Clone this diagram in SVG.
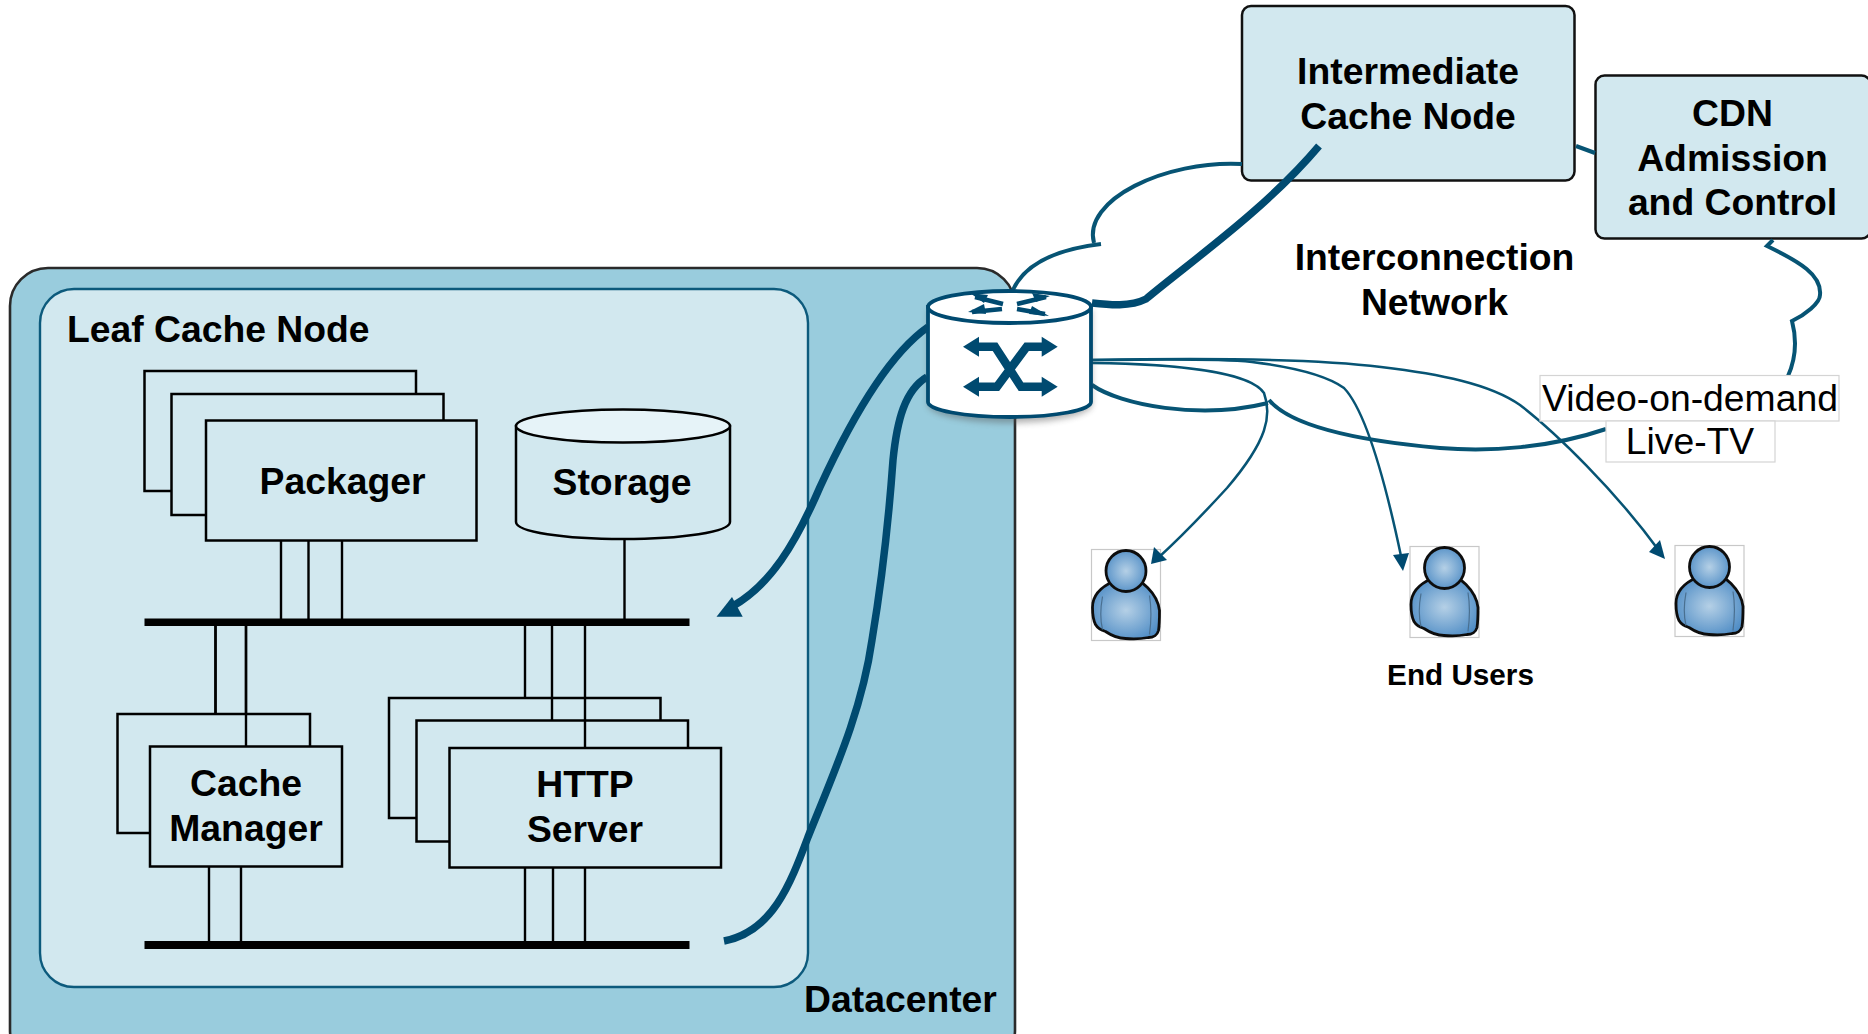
<svg xmlns="http://www.w3.org/2000/svg" xmlns:xlink="http://www.w3.org/1999/xlink" width="1868" height="1034" viewBox="0 0 1868 1034">
<style>
text{font-family:"Liberation Sans",Arial,sans-serif;font-size:37.3px;font-weight:bold;fill:#000;text-anchor:middle}
.plain{font-weight:normal}
.box{fill:#d2e8ef;stroke:#000;stroke-width:2.5}
.lnk{fill:none;stroke:#000;stroke-width:2.4}
.bus{fill:#000}
.thick{fill:none;stroke:#004a70;stroke-width:7.5}
.mid{fill:none;stroke:#075474;stroke-width:4}
.thin{fill:none;stroke:#075474;stroke-width:2.5}
.tag{fill:#fff;stroke:#d4d4d4;stroke-width:1.2}
.ubox{fill:#fff;stroke:#c8c8c8;stroke-width:1.2}
.head{fill:#004a70}
</style>
<defs>
<radialGradient id="skin" cx="50%" cy="50%" r="60%"><stop offset="0" stop-color="#b5d0e6"/><stop offset="1" stop-color="#4b8ac4"/></radialGradient>
<filter id="soft" x="-10%" y="-10%" width="120%" height="130%"><feGaussianBlur stdDeviation="3"/></filter>
<filter id="tiny" x="-5%" y="-5%" width="110%" height="110%"><feGaussianBlur stdDeviation="0.6"/></filter>
<g id="person" filter="url(#tiny)">
<path d="M22 32C8 38 1 47 1 58C1 66 2 71 4 75C7 80 11 81 14 82C20 86 26 89 34 89C43 90 52 89 57 88C62 88 66 85 67 81C68 75 68 68 68 61C67 52 62 44 56 38C53 35 50 33 48 32Z" fill="url(#skin)" stroke="#111" stroke-width="2.8"/>
<path d="M11 47C9 58 8 68 11 80M58 46C60 58 60 70 58 85" fill="none" stroke="#4a6f90" stroke-width="1.2"/>
<ellipse cx="34.500" cy="21.500" rx="20" ry="20.500" fill="url(#skin)" stroke="#111" stroke-width="2.8"/>
</g>
</defs>

<g id="datacenter">
<rect x="10" y="268" width="1005" height="800" rx="38" ry="38" fill="#99ccdd" stroke="#2a2a2a" stroke-width="2.6"/>
<text x="900.500" y="1012">Datacenter</text>
</g>

<g id="leaf-cache-node">
<rect x="40" y="289" width="768" height="698" rx="34" ry="34" fill="#d2e8ef" stroke="#0c5a7c" stroke-width="2.4"/>
<text x="67" y="341.500" style="text-anchor:start">Leaf Cache Node</text>
</g>

<g id="bus-lines">
<path class="lnk" d="M281 540V619M308.500 540V619M342 540V619M624.500 539V619"/>
<path class="lnk" d="M215.500 626V714M246 626V746M525 626V698M552 626V720M585 626V747"/>
<path class="lnk" d="M209 866V941M241 866V941M525 867V941M553 867V941M585 867V941"/>
<rect class="bus" x="144.500" y="618.500" width="545" height="7.500"/>
<rect class="bus" x="144.500" y="941" width="545" height="8"/>
</g>

<g id="packager">
<rect class="box" x="144.500" y="371" width="271.500" height="120"/>
<rect class="box" x="171.500" y="394" width="272" height="121"/>
<rect class="box" x="206" y="420.500" width="270.500" height="120"/>
<text x="342.500" y="494">Packager</text>
</g>

<g id="storage">
<path d="M516 426V522C516 532 564 539 623 539S730 532 730 522V426Z" fill="#d2e8ef" stroke="#000" stroke-width="2.5"/>
<ellipse cx="623" cy="426" rx="107" ry="16.500" fill="#e6f3f8" stroke="#000" stroke-width="2.5"/>
<text x="622" y="495">Storage</text>
</g>

<g id="cache-manager">
<rect class="box" x="117.500" y="714" width="192.500" height="119"/>
<path class="lnk" d="M215.500 626V714M246 626V746"/>
<rect class="box" x="150" y="746.500" width="192" height="120"/>
<text x="246" y="796">Cache</text>
<text x="246" y="841">Manager</text>
</g>

<g id="http-server">
<rect class="box" x="389" y="698" width="271.500" height="120"/>
<path class="lnk" d="M552 698V720M585 698V720"/>
<rect class="box" x="416.500" y="720.500" width="271.500" height="121"/>
<path class="lnk" d="M585 720V747"/>
<rect class="box" x="449.500" y="748" width="271.500" height="119.500"/>
<text x="585" y="797">HTTP</text>
<text x="585" y="842">Server</text>
</g>

<g id="user-1"><rect class="ubox" x="1091.500" y="549.500" width="69" height="91"/><use href="#person" xlink:href="#person" x="1091.500" y="549.500"/></g>
<g id="user-2"><rect class="ubox" x="1410" y="546.500" width="69" height="91"/><use href="#person" xlink:href="#person" x="1410" y="546.500"/></g>
<g id="user-3"><rect class="ubox" x="1675" y="545.500" width="69" height="91"/><use href="#person" xlink:href="#person" x="1675" y="545.500"/></g>
<g id="end-users-label"><text x="1460.500" y="685" style="font-size:29.700px">End Users</text></g>

<g id="interconnection-network">
<text x="1434.500" y="270">Interconnection</text>
<text x="1434.500" y="315">Network</text>
</g>

<g id="intermediate-cache-node">
<rect x="1242" y="6" width="332.500" height="174.500" rx="9" ry="9" fill="#d2e8ef" stroke="#111" stroke-width="2.5"/>
<text x="1408" y="84">Intermediate</text>
<text x="1408" y="129">Cache Node</text>
</g>

<g id="cdn-admission">
<rect x="1595.500" y="75.500" width="275" height="163" rx="9" ry="9" fill="#d2e8ef" stroke="#111" stroke-width="2.5"/>
<text x="1732.500" y="125.500">CDN</text>
<text x="1732.500" y="170.500">Admission</text>
<text x="1732.500" y="215">and Control</text>
</g>

<g id="connectors">
<path class="mid" d="M1242 164C1165 160 1082 200 1094 243"/>
<path class="mid" d="M1101 244C1050 250 1022 268 1012 292"/>
<path class="mid" d="M1576 146L1595 153"/>
<path class="mid" d="M1773 240L1767 246C1800 262 1822 275 1820 295C1820 303 1805 315 1792 321C1797 340 1796 358 1788 376"/>
<path class="mid" d="M1606 429C1550 448 1490 452 1440 448C1350 440 1290 425 1269 400"/>
<path class="mid" d="M1092 385C1120 405 1200 420 1268 403"/>
<path class="thick" d="M1092 303C1110 305 1130 307 1146 299C1190 262 1265 210 1319 146"/>
<path class="thick" d="M928 327C895 350 860 400 820 487C795 545 770 585 733 606"/>
<polygon class="head" points="716.500,616.700 732,597 742.700,616.700"/>
<path class="thick" d="M927 377C905 390 897 420 893 460C888 530 882 580 872 640C862 710 835 770 808 837C790 885 772 932 724 941"/>
<path class="thin" d="M1092 363C1178 364 1250 372 1264 393C1272 415 1268 440 1227 488C1205 512 1180 538 1158 558"/>
<polygon class="head" points="1151,564 1154,547 1167,560"/>
<path class="thin" d="M1092 360C1150 360 1210 358 1252 362C1300 368 1330 378 1344 388C1365 410 1385 480 1401 556"/>
<polygon class="head" points="1403,571 1393,555 1409,553"/>
<path class="thin" d="M1092 360C1200 358 1310 358 1381 367C1440 374 1490 384 1520 405C1555 432 1615 490 1660 552"/>
<polygon class="head" points="1665,559 1649,552 1660,540"/>
</g>

<g id="switch">
<path d="M928 307V402C928 411 964 420 1010 420S1092 411 1092 402V307Z" fill="#555" opacity="0.45" filter="url(#soft)" transform="translate(0,3)"/>
<path d="M928 307V402C928 410 964 417 1010 417S1091 410 1091 402V307Z" fill="#fff" stroke="#004a70" stroke-width="3.800"/>
<ellipse cx="1009.500" cy="307" rx="81.500" ry="16" fill="#fff" stroke="#004a70" stroke-width="3.800"/>
<path d="M975 297L1003 304M1046 297L1017 304M972 312L1002 309M1045 314L1017 309" fill="none" stroke="#004a70" stroke-width="4.500"/>
<path class="head" d="M970 293L988 295L984 303ZM1050 296L1032 293L1036 302ZM968 312L984 304L986 314ZM1049 316L1032 306L1029 314Z"/>
<path d="M975 346.700H995L1021 386.700H1046M1046 346.700H1026.700L997 386.700H975" fill="none" stroke="#004a70" stroke-width="8.500"/>
<path class="head" d="M963 346.700L979 336.700V356.700ZM1057.700 346.700L1041.700 336.700V356.700ZM963 386.700L979 376.700V396.700ZM1057.700 386.700L1041.700 376.700V396.700Z"/>
</g>

<g id="service-labels">
<rect class="tag" x="1540" y="375.500" width="299" height="45.500"/>
<rect class="tag" x="1606" y="421" width="169" height="41"/>
<text class="plain" x="1690" y="411">Video-on-demand</text>
<text class="plain" x="1690" y="453.500">Live-TV</text>
</g>
</svg>
